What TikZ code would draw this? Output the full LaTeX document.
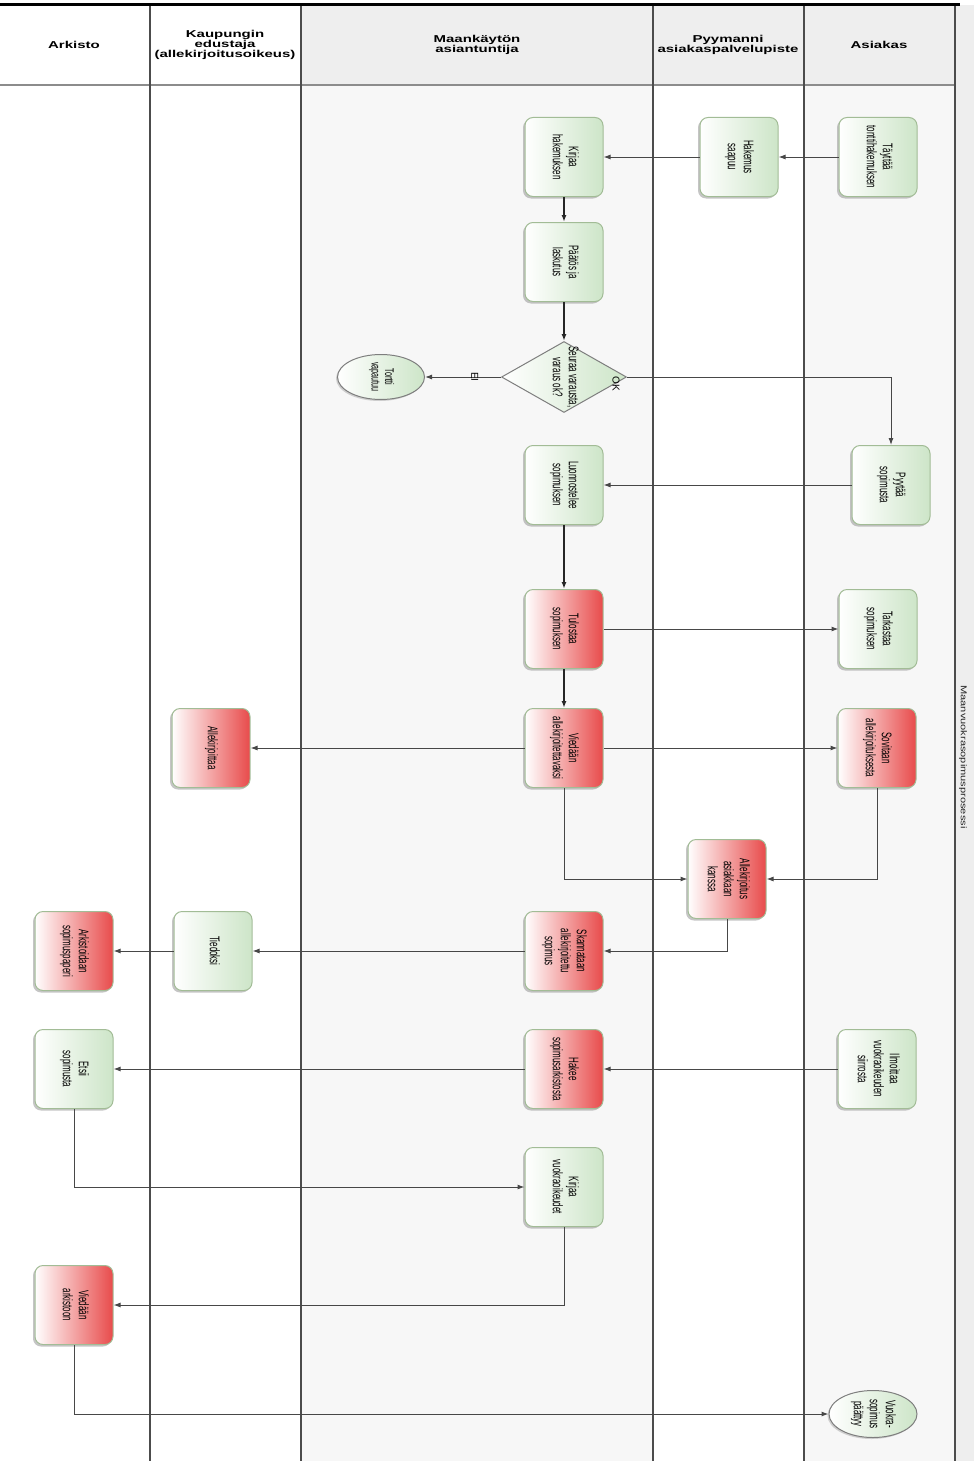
\documentclass[tikz,border=0pt]{standalone}
\usepackage{fontspec}
\setmainfont{Liberation Sans}
\newfontfamily\boxfont[FakeStretch=0.57]{Liberation Sans}
\newfontfamily\headfont[FakeStretch=1.5]{Liberation Sans}
\newfontfamily\poolfont[FakeStretch=1.3]{Liberation Sans}
\usetikzlibrary{shapes,arrows,arrows.meta,shadows}

\definecolor{laneGray}{HTML}{F7F7F7}
\definecolor{headGray}{HTML}{EEEEEE}
\definecolor{taskGreen}{HTML}{CDE5C8}
\definecolor{taskRed}{HTML}{E84B4B}
\definecolor{taskEdge}{HTML}{A2BC96}
\definecolor{lineGray}{HTML}{474747}

% teksti pystyyn laatikon sisalle
\newcommand{\vtext}[1]{\rotatebox{-90}{\begin{tabular}{@{}c@{}}#1\end{tabular}}}
\newcommand{\taskfont}{\boxfont\fontsize{14}{16}\selectfont}

\begin{document}
\begin{tikzpicture}[x=1pt, y=-1pt]
    % tyylit
    \tikzstyle{task} = [rectangle, rounded corners=8pt, minimum width=78pt, minimum height=79pt, inner sep=0pt, draw=taskEdge, line width=1pt, left color=white, right color=taskGreen, drop shadow={shadow xshift=-2pt, shadow yshift=-2pt, fill=black!45}, font=\taskfont]
    \tikzstyle{redtask} = [task, right color=taskRed]
    \tikzstyle{decision} = [diamond, minimum width=125pt, minimum height=71pt, inner sep=0pt, draw=lineGray!70, line width=1pt, left color=white, right color=taskGreen]
    \tikzstyle{endpoint} = [ellipse, minimum width=87pt, minimum height=45pt, inner sep=0pt, draw=lineGray!70, line width=1pt, left color=white, right color=taskGreen, drop shadow={shadow xshift=-1.5pt, shadow yshift=-1.5pt, fill=black!35}, font=\taskfont]
    \tikzstyle{lanehead} = [align=center, font=\headfont\bfseries\fontsize{10}{9}\selectfont]
    \tikzstyle{arrow} = [line width=1pt, draw=lineGray, ->, >={Latex[length=7pt,width=5pt]}]
    \tikzstyle{flow} = [arrow, line width=1.8pt, draw=black!85]
    \tikzstyle{answer} = [rotate=-90, font=\fontsize{10}{10}\selectfont]

    \useasboundingbox (0,0) rectangle (974,1461);

    % kaistat ja otsikot
    \fill[laneGray] (301,85) rectangle (653,1461);
    \fill[laneGray] (804,85) rectangle (955,1461);
    \fill[headGray] (301,5) rectangle (955,85);
    \fill[headGray] (955,5) rectangle (974,1461);
    \draw[line width=2pt, black!45] (0,85) -- (955,85);
    \foreach \x in {150,301,653,804,955}
        \draw[line width=1.6pt, black!70] (\x,5) -- (\x,1461);
    \draw[line width=3pt] (0,5) -- (960,5);

    \node[lanehead] (hArkisto) at (74,45) {Arkisto};
    \node[lanehead] (hKaupunki) at (225,45) {Kaupungin\\edustaja\\(allekirjoitusoikeus)};
    \node[lanehead] (hMaankaytto) at (477,45) {Maankäytön\\asiantuntija};
    \node[lanehead] (hPyymanni) at (728,45) {Pyymanni\\asiakaspalvelupiste};
    \node[lanehead] (hAsiakas) at (879,45) {Asiakas};
    \node[rotate=-90, text=black!85, font=\poolfont\fontsize{8.5}{9}\selectfont] (pool) at (963,757) {Maanvuokrasopimusprosessi};

    % tehtavat
    \node[task] (tayttaa) at (878,157) {\vtext{Täyttää\\tonttihakemuksen}};
    \node[task] (hakemus) at (739,157) {\vtext{Hakemus\\saapuu}};
    \node[task] (kirjaa) at (564,157) {\vtext{Kirjaa\\hakemuksen}};
    \node[task] (paatos) at (564,262) {\vtext{Päätös ja\\laskutus}};
    \node[decision, label={[font=\taskfont]center:{\vtext{Seuraa varausta,\\varaus ok?}}}] (dec) at (564,377) {};
    \node[endpoint, font=\boxfont\fontsize{12.5}{13.5}\selectfont] (tontti) at (381,377) {\vtext{Tontti\\vapautuu}};
    \node[task] (pyytaa) at (891,485) {\vtext{Pyytää\\sopimusta}};
    \node[task] (luonnos) at (564,485) {\vtext{Luonnostelee\\sopimuksen}};
    \node[redtask] (tulostaa) at (564,629) {\vtext{Tulostaa\\sopimuksen}};
    \node[task] (tarkastaa) at (878,629) {\vtext{Tarkastaa\\sopimuksen}};
    \node[redtask] (viedaan) at (564,748) {\vtext{Viedään\\allekirjoitettavaksi}};
    \node[redtask] (allekirj) at (211,748) {\vtext{Allekirjoittaa}};
    \node[redtask] (sovitaan) at (877,748) {\vtext{Sovitaan\\allekirjoituksesta}};
    \node[redtask] (allekas) at (727,879) {\vtext{Allekirjoitus\\asiakkaan\\kanssa}};
    \node[redtask] (skannaus) at (564,951) {\vtext{Skannataan\\allekirjoitettu\\sopimus}};
    \node[task] (tiedoksi) at (213,951) {\vtext{Tiedoksi}};
    \node[redtask] (arkistointi) at (74,951) {\vtext{Arkistoidaan\\sopimuspaperi}};
    \node[task] (ilmoittaa) at (877,1069) {\vtext{Ilmoittaa\\vuokraoikeuden\\siirrosta}};
    \node[redtask] (hakee) at (564,1069) {\vtext{Hakee\\sopimusarkistosta}};
    \node[task] (etsii) at (74,1069) {\vtext{Etsii\\sopimusta}};
    \node[task] (kirjaavo) at (564,1187) {\vtext{Kirjaa\\vuokraoikeudet}};
    \node[redtask] (arkistoon) at (74,1305) {\vtext{Viedään\\arkistoon}};
    \node[endpoint, minimum width=88pt, minimum height=47pt] (paattyy) at (873,1414) {\vtext{Vuokra-\\sopimus\\päättyy}};

    % nuolet
    \draw [arrow] (tayttaa) -- (hakemus);
    \draw [arrow] (hakemus) -- (kirjaa);
    \draw [flow] (kirjaa) -- (paatos);
    \draw [flow] (paatos) -- (dec);
    \draw [arrow] (dec) -- node[answer, pos=0.2, yshift=-11pt] {EI} (tontti);
    \draw [arrow] (dec) -| node[answer, at start, xshift=7pt, yshift=-11pt] {OK} (pyytaa);
    \draw [arrow] (pyytaa) -- (luonnos);
    \draw [flow] (luonnos) -- (tulostaa);
    \draw [arrow] (tulostaa) -- (tarkastaa);
    \draw [flow] (tulostaa) -- (viedaan);
    \draw [arrow] (viedaan) -- (allekirj);
    \draw [arrow] (viedaan) -- (sovitaan);
    \draw [arrow] (viedaan) |- (allekas);
    \draw [arrow] (sovitaan) |- (allekas);
    \draw [arrow] (allekas) |- (skannaus);
    \draw [arrow] (skannaus) -- (tiedoksi);
    \draw [arrow] (tiedoksi) -- (arkistointi);
    \draw [arrow] (ilmoittaa) -- (hakee);
    \draw [arrow] (hakee) -- (etsii);
    \draw [arrow] (etsii) |- (kirjaavo);
    \draw [arrow] (kirjaavo) |- (arkistoon);
    \draw [arrow] (arkistoon) |- (paattyy);
\end{tikzpicture}
\end{document}
